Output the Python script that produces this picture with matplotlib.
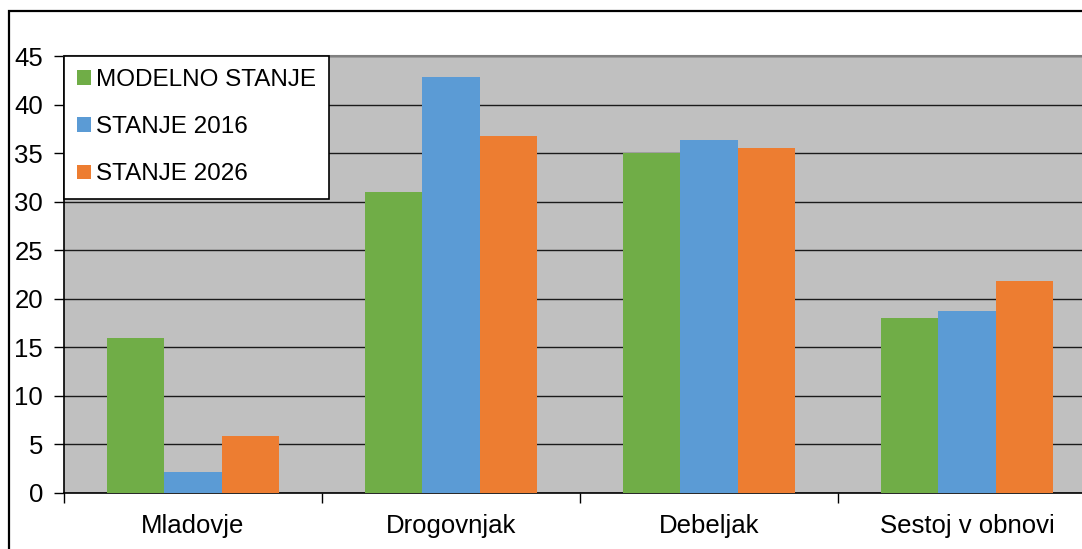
import matplotlib.pyplot as plt
import matplotlib.patches as mpatches
import numpy as np

plt.rcParams['font.family'] = ['Liberation Sans', 'DejaVu Sans']

categories = ['Mladovje', 'Drogovnjak', 'Debeljak', 'Sestoj v obnovi']
series_names = ['MODELNO STANJE', 'STANJE 2016', 'STANJE 2026']
modelno = [16.0, 31.0, 35.0, 18.0]
stanje_2016 = [2.2, 42.8, 36.3, 18.7]
stanje_2026 = [5.9, 36.8, 35.5, 21.8]
yticks = [0, 5, 10, 15, 20, 25, 30, 35, 40, 45]

colors = ['#70AD47', '#5B9BD5', '#ED7D31']

fig = plt.figure(figsize=(10.82, 5.49), dpi=100)
# outer chart frame
fig.patches.append(mpatches.Rectangle((9 / 1082, -0.1), 1.2, 1 - 11 / 549 + 0.1,
                                      transform=fig.transFigure, fill=False,
                                      edgecolor='black', linewidth=1.6))

ax = fig.add_axes([64 / 1082, 1 - 493 / 549, 1032 / 1082, 437 / 549])
ax.set_facecolor('#C0C0C0')

x = np.arange(len(categories))
w = 0.2225
for i, vals in enumerate([modelno, stanje_2016, stanje_2026]):
    ax.bar(x + (i - 1) * w, vals, width=w, color=colors[i], label=series_names[i], zorder=3)

ax.set_xlim(-0.5, 3.5)
ax.set_ylim(0, 45)
ax.set_yticks(yticks)
ax.yaxis.grid(True, color='#1a1a1a', linewidth=1.0, zorder=1)
ax.set_axisbelow(True)

ax.set_xticks(x)
ax.set_xticklabels(categories)
ax.set_xticks(np.arange(-0.5, 4, 1), minor=True)
ax.tick_params(axis='x', which='major', length=0, pad=15, labelsize=18.5)
ax.tick_params(axis='x', which='minor', length=7, width=1, color='black', direction='out')
ax.tick_params(axis='y', length=7, width=1, pad=8, labelsize=18.5)

for s in ['left', 'bottom']:
    ax.spines[s].set_color('black')
    ax.spines[s].set_linewidth(1.2)
ax.spines['top'].set_color('#808080')
ax.spines['top'].set_linewidth(1.5)
ax.spines['right'].set_visible(False)

leg = ax.legend(loc='upper left', bbox_to_anchor=(0, 1), borderaxespad=0, fontsize=17.5,
                handlelength=0.55, handleheight=0.55, handletextpad=0.2, labelspacing=1.03,
                borderpad=0.55, frameon=True, fancybox=False, framealpha=1)
leg.get_frame().set_edgecolor('black')
leg.get_frame().set_linewidth(1.2)
leg.set_zorder(5)

fig.savefig('out.png', dpi=100)
